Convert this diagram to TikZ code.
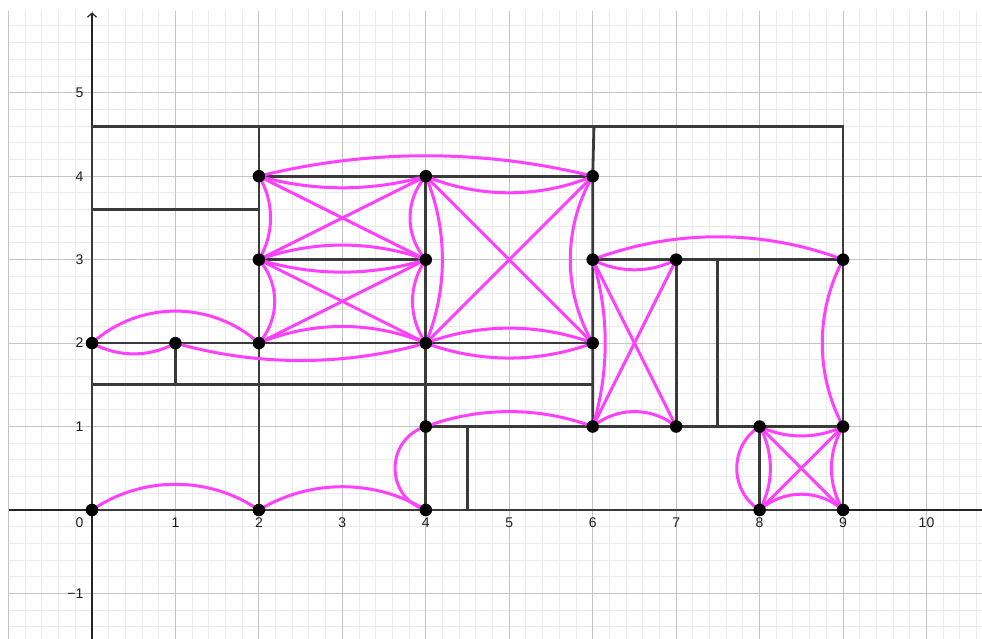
\documentclass[tikz,border=0pt]{standalone}
\usepackage{fontspec}
\setmainfont{Liberation Sans}
\usetikzlibrary{arrows.meta}
\definecolor{segc}{RGB}{58,58,58}
\definecolor{magc}{RGB}{255,64,255}
\definecolor{gmaj}{RGB}{196,196,196}
\definecolor{gmin}{RGB}{235,235,235}
\definecolor{axc}{RGB}{37,37,37}
\definecolor{labc}{RGB}{30,30,30}
\tikzset{
  segline/.style={segc, line width=2.8pt},
  magline/.style={magc, line width=3pt, line cap=round},
  dotnode/.style={circle, fill=black, inner sep=0pt, minimum size=12.5pt},
  xlab/.style={labc, inner sep=0pt, anchor=center, font=\fontsize{14}{16}\selectfont},
  ylab/.style={labc, inner sep=0pt, anchor=east, font=\fontsize{14}{16}\selectfont},
}
\newcommand\marc[4]{\pgfmathsetmacro\mylo{1.7029/(1+cos(#4))}\draw[magline] (#1) to[bend #3=#4, looseness=\mylo] (#2);}
\begin{document}
\begin{tikzpicture}[x=83.45pt,y=83.45pt]
\useasboundingbox (-1.10246,-1.54584) rectangle (10.66510,6.11144);
\fill[white] (-1.10246,-1.54584) rectangle (10.66510,6.11144);
% grid
\draw[gmin, line width=1pt] (-1,-1.54584) grid[step=0.2] (10.6651,5.98);
\draw[gmaj, line width=1pt] (-1,-1.54584) grid[step=1] (10.6651,5.98);
% axes
\draw[axc, line width=1.2pt] (-1,0) -- (10.6651,0);
\draw[axc, line width=1.2pt, -{Straight Barb[length=4pt,width=9pt]}] (0,-1.54584) -- (0,5.963);
% tick labels
\foreach \k in {1,...,10} { \node[xlab] (xl\k) at (\k,-0.147) {\k}; }
\node[ylab] (xl0) at (-0.1,-0.147) {0};
\foreach \k in {1,...,5} { \node[ylab] (yl\k) at (-0.1,\k) {\k}; }
\node[ylab] (ylm1) at (-0.1,-1) {−1};
% coordinates
\coordinate (p00) at (0,0);
\coordinate (p20) at (2,0);
\coordinate (p40) at (4,0);
\coordinate (p80) at (8,0);
\coordinate (p90) at (9,0);
\coordinate (p41) at (4,1);
\coordinate (p61) at (6,1);
\coordinate (p71) at (7,1);
\coordinate (p81) at (8,1);
\coordinate (p91) at (9,1);
\coordinate (p02) at (0,2);
\coordinate (p12) at (1,2);
\coordinate (p22) at (2,2);
\coordinate (p42) at (4,2);
\coordinate (p62) at (6,2);
\coordinate (p23) at (2,3);
\coordinate (p43) at (4,3);
\coordinate (p63) at (6,3);
\coordinate (p73) at (7,3);
\coordinate (p93) at (9,3);
\coordinate (p24) at (2,4);
\coordinate (p44) at (4,4);
\coordinate (p64) at (6,4);
\coordinate (c0t) at (0,4.6);
\coordinate (c2t) at (2,4.6);
\coordinate (c6t) at (6.015,4.6);
\coordinate (c9t) at (9,4.6);
\coordinate (c0m) at (0,3.6);
\coordinate (c2m) at (2,3.6);
\coordinate (c0h) at (0,1.5);
\coordinate (c1h) at (1,1.5);
\coordinate (c6h) at (6,1.5);
\coordinate (c75t) at (7.5,3);
\coordinate (c75b) at (7.5,1);
\coordinate (c45t) at (4.5,1);
\coordinate (c45b) at (4.5,0);
% black segments
\draw[segline] (p00) -- (p90);
\draw[segline] (p00) -- (c0t) -- (c9t) -- (p90);
\draw[segline] (p20) -- (c2t);
\draw[segline] (c0m) -- (c2m);
\draw[segline] (p24) -- (p64);
\draw[segline] (p23) -- (p43);
\draw[segline] (p02) -- (p62);
\draw[segline] (p40) -- (p44);
\draw[segline] (p61) -- (p64) -- (c6t);
\draw[segline] (c0h) -- (c6h);
\draw[segline] (c1h) -- (p12);
\draw[segline] (p63) -- (p93);
\draw[segline] (p71) -- (p73);
\draw[segline] (c75b) -- (c75t);
\draw[segline] (p41) -- (p91);
\draw[segline] (c45b) -- (c45t);
\draw[segline] (p80) -- (p81);
% magenta straight lines
\draw[magline] (p24) -- (p43);
\draw[magline] (p23) -- (p44);
\draw[magline] (p23) -- (p42);
\draw[magline] (p22) -- (p43);
\draw[magline] (p44) -- (p62);
\draw[magline] (p42) -- (p64);
\draw[magline] (p63) -- (p71);
\draw[magline] (p61) -- (p73);
\draw[magline] (p81) -- (p90);
\draw[magline] (p80) -- (p91);
% magenta arcs
\marc{p00}{p20}{left}{34.4}
\marc{p20}{p40}{left}{31.3}
\marc{p40}{p41}{left}{73}
\marc{p41}{p61}{left}{20.4}
\marc{p02}{p22}{left}{42.1}
\marc{p02}{p12}{right}{29.1}
\marc{p12}{p42}{right}{15.9}
\marc{p24}{p44}{right}{15.9}
\marc{p24}{p64}{left}{14}
\marc{p44}{p64}{right}{22.6}
\marc{p24}{p23}{left}{31.3}
\marc{p44}{p43}{right}{41.6}
\marc{p23}{p43}{left}{19.9}
\marc{p23}{p43}{right}{17.1}
\marc{p23}{p22}{left}{41.6}
\marc{p43}{p42}{right}{35.5}
\marc{p22}{p42}{left}{22.6}
\marc{p44}{p42}{left}{22.6}
\marc{p64}{p62}{right}{30.2}
\marc{p42}{p62}{left}{20.4}
\marc{p42}{p62}{right}{20.4}
\marc{p63}{p93}{left}{20.8}
\marc{p63}{p73}{right}{27.5}
\marc{p63}{p61}{left}{17.1}
\marc{p61}{p71}{left}{39.6}
\marc{p93}{p91}{right}{28.1}
\marc{p81}{p80}{right}{57.6}
\marc{p81}{p80}{left}{29.1}
\marc{p91}{p90}{right}{31.3}
\marc{p81}{p91}{right}{25.5}
\marc{p80}{p90}{left}{41.6}
% points
\foreach \p in {p00,p20,p40,p80,p90,p41,p61,p71,p81,p91,p02,p12,p22,p42,p62,p23,p43,p63,p73,p93,p24,p44,p64}
  { \node[dotnode] (d\p) at (\p) {}; }
\end{tikzpicture}
\end{document}
